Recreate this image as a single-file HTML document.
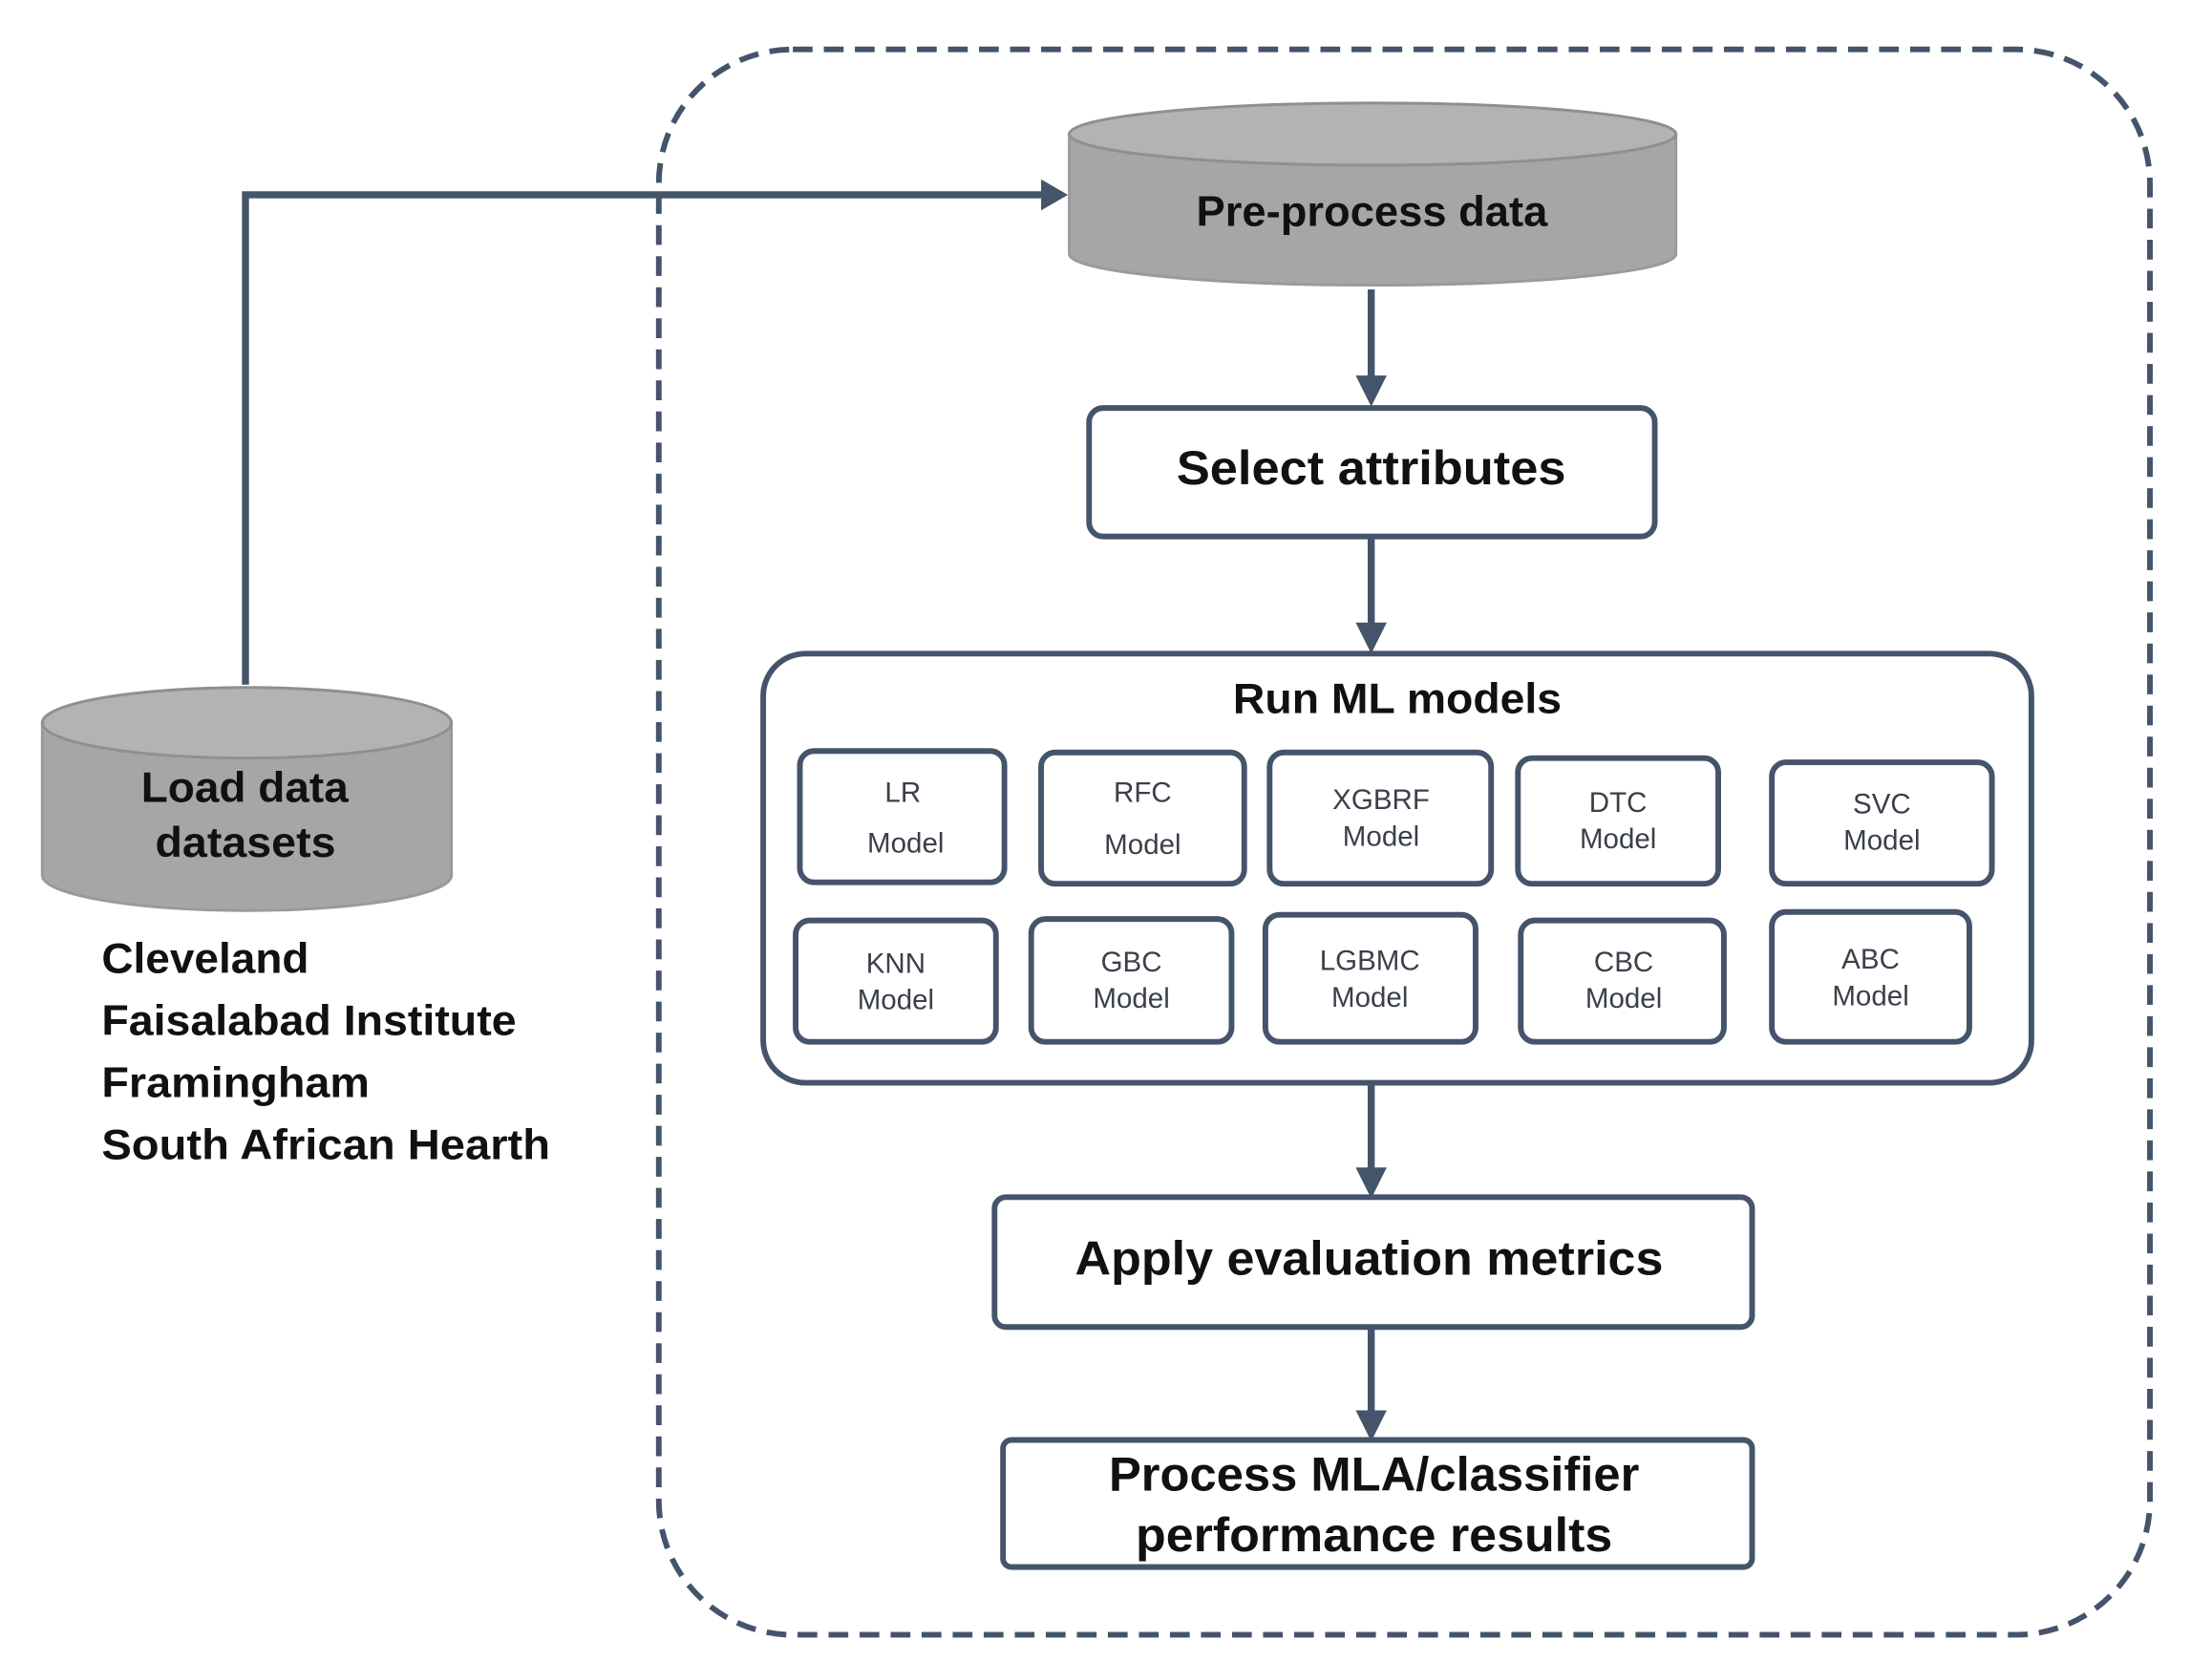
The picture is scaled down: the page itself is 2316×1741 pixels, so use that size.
<!DOCTYPE html>
<html><head><meta charset="utf-8"><style>
html,body{margin:0;padding:0;background:#fff;}
svg{display:block;}
text{font-family:"Liberation Sans",sans-serif;font-weight:bold;fill:#111;}
.s{font-weight:normal;fill:#3a3f4a;font-size:20px;}
</style></head><body>
<svg width="2316" height="1741" viewBox="0 0 1568 1178" preserveAspectRatio="none" xmlns="http://www.w3.org/2000/svg">
<g stroke="#44546a" fill="none">
<rect x="467" y="35" width="1057" height="1123" rx="95" stroke-width="4" stroke-dasharray="14 8"/>
<polyline points="174,485 174,138 740,138" stroke-width="5"/>
</g>
<polygon points="738,127 757,138 738,149" fill="#44546a"/>
<path d="M758,95 L758,180 A215,22 0 0 0 1188,180 L1188,95 Z" fill="#a6a6a6" stroke="#9a9a9a" stroke-width="2"/>
<ellipse cx="973" cy="95" rx="215" ry="22" fill="#b3b3b3" stroke="#8f8f8f" stroke-width="2"/>
<text x="848" y="160" font-size="30" textLength="249" lengthAdjust="spacingAndGlyphs">Pre-process data</text>
<path d="M30,512 L30,620 A145,25 0 0 0 320,620 L320,512 Z" fill="#a6a6a6" stroke="#9a9a9a" stroke-width="2"/>
<ellipse cx="175" cy="512" rx="145" ry="25" fill="#b3b3b3" stroke="#8f8f8f" stroke-width="2"/>
<text x="100" y="568" font-size="30" textLength="147" lengthAdjust="spacingAndGlyphs">Load data</text>
<text x="110" y="607" font-size="30" textLength="128" lengthAdjust="spacingAndGlyphs">datasets</text>
<text x="72" y="689" font-size="30" textLength="147" lengthAdjust="spacingAndGlyphs">Cleveland</text>
<text x="72" y="733" font-size="30" textLength="294" lengthAdjust="spacingAndGlyphs">Faisalabad Institute</text>
<text x="72" y="777" font-size="30" textLength="190" lengthAdjust="spacingAndGlyphs">Framingham</text>
<text x="72" y="821" font-size="30" textLength="318" lengthAdjust="spacingAndGlyphs">South African Hearth</text>
<g stroke="#44546a" stroke-width="5">
<line x1="972" y1="205" x2="972" y2="270"/>
<line x1="972" y1="380" x2="972" y2="445"/>
<line x1="972" y1="767" x2="972" y2="831"/>
<line x1="972" y1="940" x2="972" y2="1003"/>
</g>
<g fill="#44546a">
<polygon points="961,266 983,266 972,288"/>
<polygon points="961,441 983,441 972,463"/>
<polygon points="961,827 983,827 972,849"/>
<polygon points="961,999 983,999 972,1021"/>
</g>
<g fill="#fff" stroke="#44546a" stroke-width="4">
<rect x="772" y="289" width="401" height="91" rx="10"/>
<rect x="541" y="463" width="899" height="304" rx="30"/>
<rect x="705" y="848" width="537" height="92" rx="8"/>
<rect x="711" y="1020" width="531" height="90" rx="6"/>
<rect x="567" y="532" width="145" height="93" rx="10"/>
<rect x="738" y="533" width="144" height="93" rx="10"/>
<rect x="900" y="533" width="157" height="93" rx="10"/>
<rect x="1076" y="537" width="142" height="89" rx="10"/>
<rect x="1256" y="540" width="156" height="86" rx="10"/>
<rect x="564" y="652" width="142" height="86" rx="10"/>
<rect x="731" y="651" width="142" height="87" rx="10"/>
<rect x="897" y="648" width="149" height="90" rx="10"/>
<rect x="1078" y="652" width="144" height="86" rx="10"/>
<rect x="1256" y="646" width="140" height="92" rx="10"/>
</g>
<text x="834" y="343" font-size="34" textLength="276" lengthAdjust="spacingAndGlyphs">Select attributes</text>
<text x="874" y="505" font-size="30" textLength="233" lengthAdjust="spacingAndGlyphs">Run ML models</text>
<text x="762" y="903" font-size="34" textLength="417" lengthAdjust="spacingAndGlyphs">Apply evaluation metrics</text>
<text x="786" y="1056" font-size="34" textLength="376" lengthAdjust="spacingAndGlyphs">Process MLA/classifier</text>
<text x="805" y="1099" font-size="34" textLength="338" lengthAdjust="spacingAndGlyphs">performance results</text>
<g text-anchor="middle">
<text class="s" x="640" y="568">LR</text><text class="s" x="642" y="604">Model</text>
<text class="s" x="810" y="568">RFC</text><text class="s" x="810" y="605">Model</text>
<text class="s" x="979" y="573">XGBRF</text><text class="s" x="979" y="599">Model</text>
<text class="s" x="1147" y="575">DTC</text><text class="s" x="1147" y="601">Model</text>
<text class="s" x="1334" y="576">SVC</text><text class="s" x="1334" y="602">Model</text>
<text class="s" x="635" y="689">KNN</text><text class="s" x="635" y="715">Model</text>
<text class="s" x="802" y="688">GBC</text><text class="s" x="802" y="714">Model</text>
<text class="s" x="971" y="687">LGBMC</text><text class="s" x="971" y="713">Model</text>
<text class="s" x="1151" y="688">CBC</text><text class="s" x="1151" y="714">Model</text>
<text class="s" x="1326" y="686">ABC</text><text class="s" x="1326" y="712">Model</text>
</g>
</svg>
</body></html>
